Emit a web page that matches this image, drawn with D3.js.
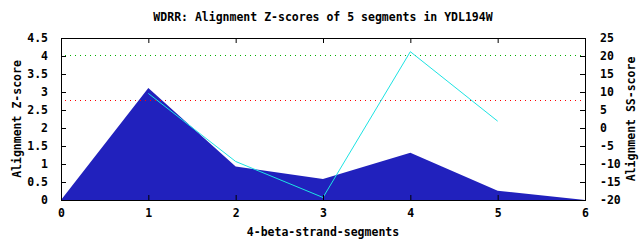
<!DOCTYPE html>
<html>
<head>
<meta charset="utf-8">
<script src="https://cdn.jsdelivr.net/npm/d3@7"></script>
<style>
  body { margin: 0; background: #fff; }
  text { font-family: "DejaVu Sans Mono", monospace; font-weight: bold; font-size: 11.5px; fill: #000; }
</style>
</head>
<body>
<div id="chart"></div>
<script>
// segment positions and scores
const segX = [0, 1, 2, 3, 4, 5, 6];
const zScores = [0, 3.11, 0.93, 0.58, 1.31, 0.26, 0];
const ssX = [1, 2, 3, 4, 5];
const ssScores = [9.6, -9.3, -19.3, 21.2, 1.9];
const thresholds = [
  { value: 4.03, color: '#00b000' },
  { value: 2.77, color: '#ff0000' }
];
const leftTicks = [0, 0.5, 1, 1.5, 2, 2.5, 3, 3.5, 4, 4.5];
const rightTicks = [-20, -15, -10, -5, 0, 5, 10, 15, 20, 25];
const xTicks = [0, 1, 2, 3, 4, 5, 6];

const width = 640;
const height = 240;
const plotLeft = 61, plotRight = 585, plotTop = 38, plotBottom = 200;

const svg = d3.select('#chart').append('svg')
  .attr('width', width)
  .attr('height', height);

const xScale = d3.scaleLinear().domain([0, 6]).range([plotLeft, plotRight]);
const yLeft = d3.scaleLinear().domain([0, 4.5]).range([plotBottom, plotTop]);
const yRight = d3.scaleLinear().domain([-20, 25]).range([plotBottom, plotTop]);

// filled z-score area
const zData = segX.map((x, i) => ({ x, y: zScores[i] }));
svg.append('path')
  .datum(zData)
  .attr('fill', '#2121bd')
  .attr('d', d3.area()
    .x(d => xScale(d.x))
    .y0(yLeft(0))
    .y1(d => yLeft(d.y)));

// threshold dotted lines
thresholds.forEach(t => {
  svg.append('line')
    .attr('x1', plotLeft + 4).attr('x2', plotRight - 4)
    .attr('y1', Math.round(yLeft(t.value)) + 0.5)
    .attr('y2', Math.round(yLeft(t.value)) + 0.5)
    .attr('stroke', t.color)
    .attr('stroke-width', 1)
    .attr('stroke-dasharray', '1,4');
});

// ss-score line
const ssData = ssX.map((x, i) => ({ x, y: ssScores[i] }));
svg.append('path')
  .datum(ssData)
  .attr('fill', 'none')
  .attr('stroke', '#1de3e3')
  .attr('stroke-width', 1)
  .attr('d', d3.line()
    .x(d => xScale(d.x))
    .y(d => yRight(d.y)));

// axes (gnuplot style, ticks inward)
const xaxis = d3.axisBottom(xScale).tickValues(xTicks).tickSize(-5).tickPadding(9).tickFormat(d3.format('d'));
const xaxisTop = d3.axisTop(xScale).tickValues(xTicks).tickSize(-5).tickFormat('');
const yaxisL = d3.axisLeft(yLeft).tickValues(leftTicks).tickSize(-5).tickPadding(13).tickFormat(d => String(d));
const yaxisR = d3.axisRight(yRight).tickValues(rightTicks).tickSize(-5).tickPadding(15).tickFormat(d => String(d));

svg.append('g').attr('transform', 'translate(0,' + plotBottom + ')').call(xaxis);
svg.append('g').attr('transform', 'translate(0,' + plotTop + ')').call(xaxisTop);
svg.append('g').attr('transform', 'translate(' + plotLeft + ',0)').call(yaxisL);
svg.append('g').attr('transform', 'translate(' + plotRight + ',0)').call(yaxisR);

svg.selectAll('.domain').remove();
svg.selectAll('.tick line').attr('stroke', '#000');
svg.selectAll('.tick text')
  .style('font-family', '"DejaVu Sans Mono", monospace')
  .style('font-weight', 'bold')
  .style('font-size', '11.5px')
  .attr('fill', '#000');

// frame
svg.append('rect')
  .attr('x', plotLeft + 0.5).attr('y', plotTop + 0.5)
  .attr('width', plotRight - plotLeft).attr('height', plotBottom - plotTop)
  .attr('fill', 'none')
  .attr('stroke', '#000');

// titles
svg.append('text')
  .attr('x', 323).attr('y', 21)
  .attr('text-anchor', 'middle')
  .text('WDRR: Alignment Z-scores of 5 segments in YDL194W');

svg.append('text')
  .attr('x', 323).attr('y', 236)
  .attr('text-anchor', 'middle')
  .text('4-beta-strand-segments');

svg.append('text')
  .attr('transform', 'translate(21,119) rotate(-90)')
  .attr('text-anchor', 'middle')
  .text('Alignment Z-score');

svg.append('text')
  .attr('transform', 'translate(635,119) rotate(-90)')
  .attr('text-anchor', 'middle')
  .text('Alignment SS-score');
</script>
</body>
</html>
